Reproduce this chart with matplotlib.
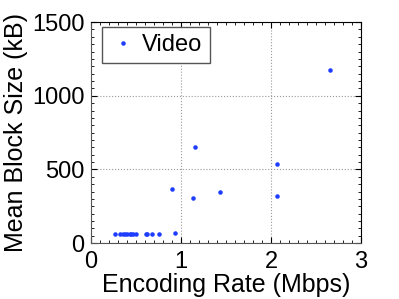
import numpy as np
import matplotlib
matplotlib.use('Agg')
import matplotlib.pyplot as plt
from matplotlib.ticker import AutoMinorLocator

rate_mbps = [0.27, 0.32, 0.36, 0.38, 0.40, 0.43, 0.45, 0.47, 0.50,
             0.61, 0.62, 0.68, 0.76, 0.93, 0.90, 1.13, 1.16, 1.43,
             2.07, 2.07, 2.66]
block_kb = [61, 61, 62, 64, 64, 64, 62, 62, 61,
            61, 64, 61, 60, 70, 370, 305, 654, 348,
            321, 534, 1172]

plt.rcParams['font.family'] = ['Liberation Sans', 'DejaVu Sans']

fig = plt.figure(figsize=(3.99, 2.99), dpi=100)
ax = fig.add_axes([0.228, 0.187, 0.677, 0.739])

ax.plot(rate_mbps, block_kb, '.', color='#1f3dff', markersize=4.5, label='Video')

ax.set_xlim(0, 3)
ax.set_ylim(0, 1500)
ax.set_xticks([0, 1, 2, 3])
ax.set_yticks([0, 500, 1000, 1500])
ax.xaxis.set_minor_locator(AutoMinorLocator(10))
ax.yaxis.set_minor_locator(AutoMinorLocator(10))
ax.tick_params(which='both', direction='in', top=True, right=True, labelsize=17)
ax.tick_params(which='major', length=4)
ax.tick_params(which='minor', length=2)
ax.tick_params(axis='x', pad=6)
ax.tick_params(axis='y', pad=4.5)
ax.grid(True, which='major', linestyle=':', color='#999999', linewidth=0.8)
for s in ax.spines.values():
    s.set_linewidth(0.8)
ax.spines['left'].set_color('#555555')
ax.spines['bottom'].set_color('#555555')

ax.set_xlabel('Encoding Rate (Mbps)', fontsize=18, labelpad=0)
ax.set_ylabel('Mean Block Size (kB)', fontsize=18, labelpad=3)

leg = ax.legend(loc='upper left', bbox_to_anchor=(0.041, 0.977), fontsize=17,
                fancybox=False, framealpha=1, edgecolor='#555555',
                handlelength=1.2, handletextpad=0.2, borderpad=0.3,
                borderaxespad=0)
leg.get_frame().set_linewidth(1.0)

fig.savefig('out.png', dpi=100)
